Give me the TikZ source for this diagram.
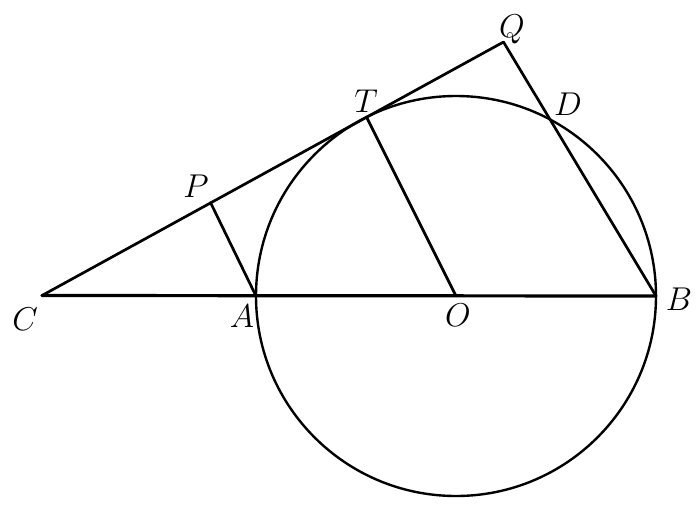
\documentclass[tikz,border=0pt]{standalone}
\usepackage{fix-cm}
\begin{document}
\begin{tikzpicture}[x=1pt,y=-1pt,
  seg/.style={line width=2.7pt,line cap=round,line join=round},
  base/.style={line width=3.2pt,line cap=round},
  circ/.style={line width=2.4pt},
  lab/.style={inner sep=0pt,anchor=base,font=\fontsize{33}{33}\selectfont}]
\useasboundingbox (0,0) rectangle (696,504);
\coordinate (O) at (456,296);
\coordinate (C) at (42,295.5);
\coordinate (A) at (256,296);
\coordinate (B) at (656,296);
\coordinate (T) at (366.5,117);
\coordinate (Q) at (503.5,42);
\coordinate (D) at (551.5,118.5);
\coordinate (P) at (210.5,202.5);
\draw[circ] (O) circle[radius=200];
\draw[seg] (C) -- (Q) -- (B);
\draw[base] (C) -- (B);
\draw[seg] (A) -- (P);
\draw[seg] (O) -- (T);
\node[lab] (lC) at (25,330) {$C$};
\node[lab] (lA) at (242,327) {$A$};
\node[lab] (lO) at (458,326) {$O$};
\node[lab] (lB) at (679,310) {$B$};
\node[lab] (lT) at (366,112) {$T$};
\node[lab] (lQ) at (512,37) {$Q$};
\node[lab] (lD) at (568,115) {$D$};
\node[lab] (lP) at (196,197) {$P$};
\end{tikzpicture}
\end{document}
